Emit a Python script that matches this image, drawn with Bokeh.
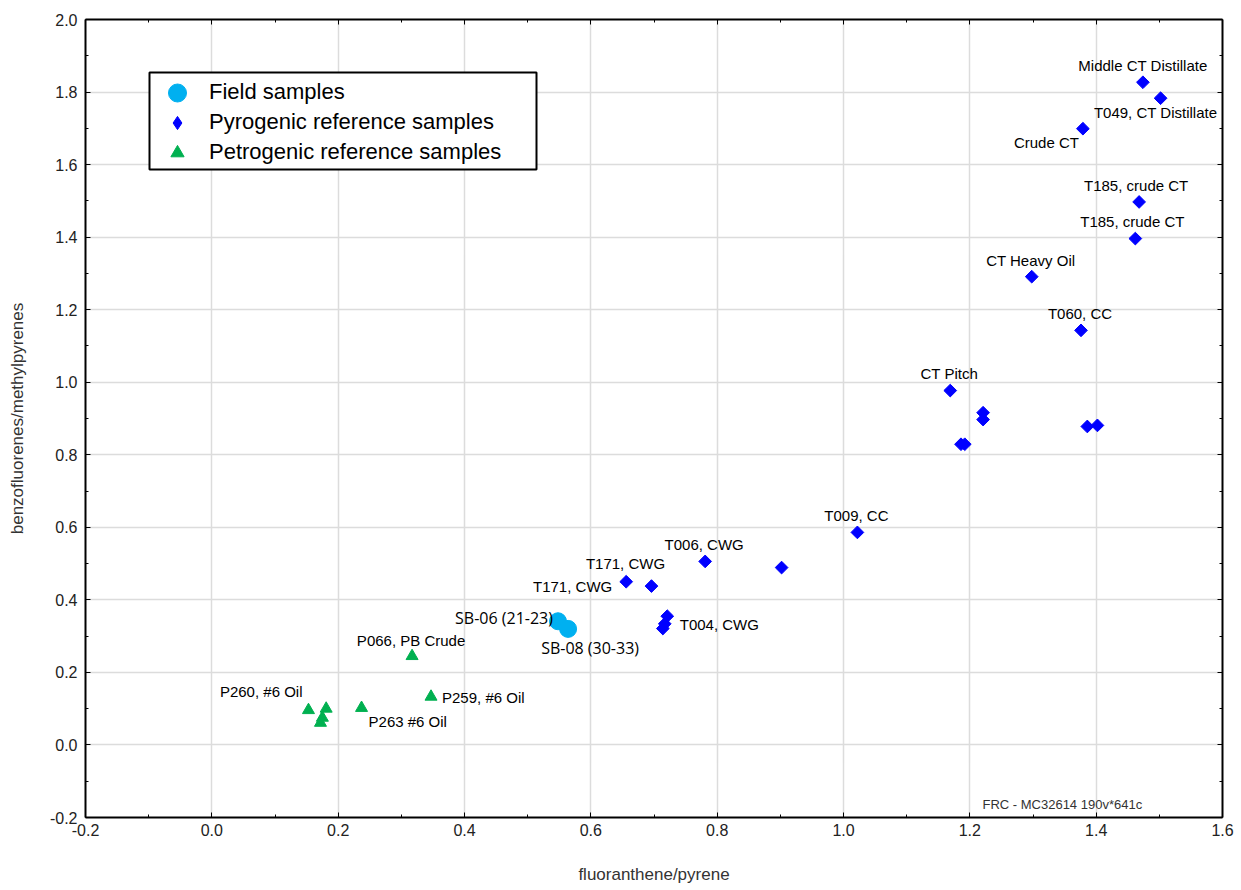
import numpy as np
from bokeh.plotting import figure
from bokeh.models import (ColumnDataSource, FixedTicker, LinearAxis, Legend,
                          LegendItem, Label, PrintfTickFormatter, BoxAnnotation,
                          CustomLabelingPolicy)
from bokeh.core.properties import value
from bokeh.embed import file_html
from bokeh.resources import INLINE

# ---------------- data ----------------
pyro_x = [1.474, 1.502, 1.379, 1.468, 1.462, 1.298, 1.376, 1.169, 1.221, 1.221,
          1.186, 1.192, 1.386, 1.402, 1.022, 0.902, 0.781, 0.656, 0.696, 0.721,
          0.717, 0.714]
pyro_y = [1.827, 1.783, 1.699, 1.497, 1.396, 1.291, 1.143, 0.977, 0.916, 0.897,
          0.829, 0.829, 0.878, 0.881, 0.586, 0.489, 0.506, 0.450, 0.438, 0.355,
          0.334, 0.321]
pyro_labels = ["Middle CT Distillate", "T049, CT Distillate", "Crude CT",
               "T185, crude CT", "T185, crude CT", "CT Heavy Oil", "T060, CC",
               "CT Pitch", "", "", "", "", "", "", "T009, CC", "", "T006, CWG",
               "T171, CWG", "T171, CWG", "", "T004, CWG", ""]

field_x = [0.548, 0.564]
field_y = [0.341, 0.320]
field_labels = ["SB-06 (21-23)", "SB-08 (30-33)"]

petro_x = [0.317, 0.347, 0.237, 0.153, 0.181, 0.175, 0.172]
petro_y = [0.245, 0.133, 0.102, 0.096, 0.100, 0.075, 0.061]
petro_labels = ["P066, PB Crude", "P259, #6 Oil", "P263 #6 Oil", "P260, #6 Oil",
                "", "", ""]

x_ticks = [-0.2, 0.0, 0.2, 0.4, 0.6, 0.8, 1.0, 1.2, 1.4, 1.6]
y_ticks = [-0.2, 0.0, 0.2, 0.4, 0.6, 0.8, 1.0, 1.2, 1.4, 1.6, 1.8, 2.0]
x_minor = [-0.1, 0.1, 0.3, 0.5, 0.7, 0.9, 1.1, 1.3, 1.5]
y_minor = [-0.1, 0.1, 0.3, 0.5, 0.7, 0.9, 1.1, 1.3, 1.5, 1.7, 1.9]

# label placement (screen-pixel offsets and alignment), kept apart from the data
pyro_label_pos = {0: (0, -17, "center"), 1: (-5, 14, "center"), 2: (-4, 14, "right"),
                  3: (-3, -16, "center"), 4: (-3, -17, "center"), 5: (-1, -16, "center"),
                  6: (-1, -17, "center"), 7: (-1, -17, "center"), 14: (-1, -17, "center"),
                  16: (-1, -17, "center"), 17: (-14, 5, "right"), 18: (-26, -23, "center"),
                  20: (15, 1, "left")}
field_label_pos = {0: (-5, -3, "right"), 1: (22, 19, "center")}
petro_label_pos = {0: (-1, -16, "center"), 1: (11, 1, "left"), 2: (7, 14, "left"),
                   3: (-6, -19, "right")}

FONT = "Liberation Sans"
FRAME_W, FRAME_H = 1137, 798

p = figure(width=1232, height=888, x_range=(-0.2, 1.6), y_range=(-0.2, 2.0),
           output_backend="svg", toolbar_location=None,
           frame_width=FRAME_W, frame_height=FRAME_H,
           min_border_left=85, min_border_right=10, min_border_top=19,
           min_border_bottom=71, background_fill_color="white")
p.outline_line_color = None

fmt = PrintfTickFormatter(format="%.1f")
xt = FixedTicker(ticks=x_ticks, minor_ticks=x_minor)
yt = FixedTicker(ticks=y_ticks, minor_ticks=y_minor)
no_labels = CustomLabelingPolicy(code="return new indices.constructor(indices.size)")


def style_axis(ax, show_labels=True):
    ax.axis_line_color = "black"
    ax.axis_line_width = 2
    ax.major_tick_in = 5
    ax.major_tick_out = 0
    ax.minor_tick_in = 3
    ax.minor_tick_out = 0
    ax.major_tick_line_color = "black"
    ax.minor_tick_line_color = "black"
    ax.formatter = fmt
    ax.major_label_text_font = FONT
    ax.major_label_text_color = "#222222"
    ax.major_label_text_font_size = "16px"
    if not show_labels:
        ax.major_label_policy = no_labels
        ax.major_label_standoff = 0


p.xaxis.ticker = xt
p.yaxis.ticker = yt
style_axis(p.xaxis[0])
style_axis(p.yaxis[0])
p.xaxis.major_label_standoff = 6
p.yaxis.major_label_standoff = 8
p.xaxis.axis_label = "fluoranthene/pyrene"
p.yaxis.axis_label = "benzofluorenes/methylpyrenes"
for ax in (p.xaxis[0], p.yaxis[0]):
    ax.axis_label_text_font = FONT
    ax.axis_label_text_font_size = "17px"
    ax.axis_label_text_font_style = "normal"
    ax.axis_label_text_color = "#333333"
p.xaxis.axis_label_standoff = 26
p.yaxis.axis_label_standoff = 20

top_ax = LinearAxis(ticker=xt)
style_axis(top_ax, show_labels=False)
p.add_layout(top_ax, "above")
right_ax = LinearAxis(ticker=yt)
style_axis(right_ax, show_labels=False)
p.add_layout(right_ax, "right")

p.xgrid.ticker = xt
p.ygrid.ticker = yt
p.grid.grid_line_color = "#dcdcdc"
p.grid.grid_line_width = 1.5

# ---------------- markers ----------------
src_pyro = ColumnDataSource(dict(x=pyro_x, y=pyro_y))
src_field = ColumnDataSource(dict(x=field_x, y=field_y))
src_petro = ColumnDataSource(dict(x=petro_x, y=petro_y))

BLUE, CYAN, GREEN = "#0000FF", "#00B0F0", "#00B050"
r_pyro = p.scatter("x", "y", source=src_pyro, marker="square", angle=np.pi / 4,
                   size=9, fill_color=BLUE, line_color=BLUE)
r_petro = p.scatter("x", "y", source=src_petro, marker="triangle", size=12,
                    fill_color=GREEN, line_color=GREEN)
r_field = p.scatter("x", "y", source=src_field, marker="circle", size=17,
                    fill_color=CYAN, line_color=CYAN)
# legend swatch for the diamonds (legends draw markers unrotated)
r_pyro_key = p.scatter("x", "y", source=src_pyro, marker="diamond", size=14,
                       fill_color=BLUE, line_color=BLUE, visible=False)


# ---------------- point labels ----------------
def label_source(xs, ys, labels, pos):
    d = dict(x=[], y=[], t=[], dx=[], dy=[], al=[])
    for i, (dx, dy, al) in pos.items():
        d["x"].append(xs[i]); d["y"].append(ys[i]); d["t"].append(labels[i])
        d["dx"].append(dx); d["dy"].append(dy); d["al"].append(al)
    return ColumnDataSource(d)


for xs, ys, labs, pos, font, size in [
        (pyro_x, pyro_y, pyro_labels, pyro_label_pos, FONT, "15px"),
        (petro_x, petro_y, petro_labels, petro_label_pos, FONT, "15px"),
        (field_x, field_y, field_labels, field_label_pos, "Open Sans", "16px")]:
    s = label_source(xs, ys, labs, pos)
    p.text("x", "y", text="t", source=s, x_offset="dx", y_offset="dy",
           text_align="al", text_baseline="middle", text_font=value(font),
           text_font_size=size, text_color="black")

p.add_layout(Label(x=1.22, y=-0.164, text="FRC - MC32614 190v*641c",
                   text_font=FONT, text_font_size="13px", text_color="#333333",
                   text_baseline="middle", text_align="left"))

# ---------------- legend ----------------
# frame-relative box of the legend (screen px, y measured from frame bottom)
p.add_layout(BoxAnnotation(left=64, right=451, top=745, bottom=648,
                           left_units="screen", right_units="screen",
                           top_units="screen", bottom_units="screen",
                           fill_color="white", fill_alpha=1.0,
                           line_color="black", line_width=2, line_alpha=1.0,
                           line_dash="solid"))

legend_rows = [("Field samples", r_field, 45, 702.5),
               ("Pyrogenic reference samples", r_pyro_key, 33, 678.5),
               ("Petrogenic reference samples", r_petro, 33, 648.5)]
for lab, rend, gh, ypos in legend_rows:
    lg = Legend(items=[LegendItem(label=lab, renderers=[rend])], location=(69, ypos))
    lg.border_line_color = None
    lg.background_fill_alpha = 0
    lg.inactive_fill_alpha = 0
    lg.label_text_font = FONT
    lg.label_text_font_size = "22px"
    lg.label_text_color = "black"
    lg.padding = 0
    lg.margin = 0
    lg.spacing = 0
    lg.glyph_width = 46
    lg.glyph_height = gh
    lg.label_height = gh
    lg.label_standoff = 9
    p.add_layout(lg)

open("out.html", "w").write(file_html(p, INLINE))
